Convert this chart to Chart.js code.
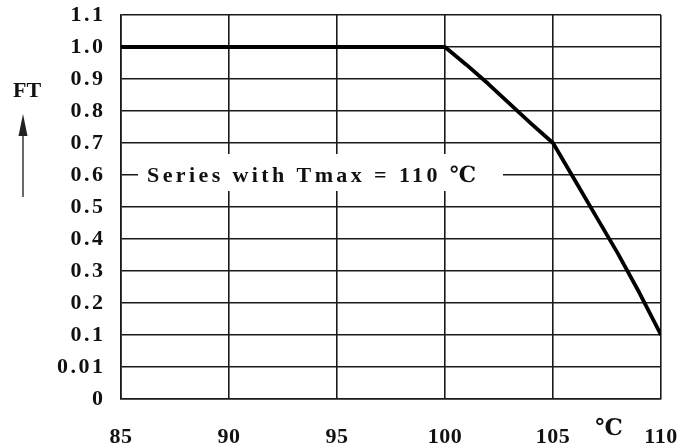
<!DOCTYPE html>
<html><head><meta charset="utf-8">
<style>html,body{margin:0;padding:0;background:#fff;}#wrap{width:679px;height:448px;}</style>
<script src="https://cdn.jsdelivr.net/npm/chart.js@4"></script>
</head><body><div id="wrap"><canvas id="c" width="679" height="448"></canvas></div>
<script>
// Data
const temps = [85, 100, 101, 102, 103, 104, 105, 106, 107, 108, 109, 110];
const ftValues = [1.0, 1.0, 0.944, 0.885, 0.822, 0.76, 0.70, 0.585, 0.47, 0.355, 0.232, 0.10];
const xTickValues = [85, 90, 95, 100, 105, 110];
const yTickValues = [-0.1, 0, 0.1, 0.2, 0.3, 0.4, 0.5, 0.6, 0.7, 0.8, 0.9, 1.0, 1.1];
const yTickLabels = ['0', '0.01', '0.1', '0.2', '0.3', '0.4', '0.5', '0.6', '0.7', '0.8', '0.9', '1.0', '1.1'];
const seriesLabel = 'Series with Tmax = 110 \u2103';
const unitLabel = '\u2103';
const axisLabel = 'FT';

const FONT = '"Liberation Serif", "DejaVu Serif", serif';

const decor = {
  id: 'decor',
  beforeDraw(chart) { chart.ctx.letterSpacing = '0.5px'; },
  afterDatasetsDraw(chart) { chart.ctx.letterSpacing = '2.5px'; },
  afterDraw(chart) {
    const { ctx, scales: { x, y } } = chart;
    ctx.save();
    // annotation label box
    const yy = y.getPixelForValue(0.6);
    const left = x.left + 17, right = x.left + 382;
    ctx.fillStyle = '#fff';
    ctx.fillRect(left, yy - 21, right - left, 37);
    ctx.letterSpacing = '3.4px';
    ctx.font = 'bold 22px ' + FONT;
    ctx.fillStyle = '#111';
    ctx.textBaseline = 'middle';
    ctx.textAlign = 'left';
    ctx.fillText(seriesLabel, left + 9, yy + 1);
    // unit label near 110
    ctx.letterSpacing = '0px';
    ctx.font = 'bold 23px ' + FONT;
    ctx.textAlign = 'center';
    ctx.fillText(unitLabel, x.right - 52, 429);
    // FT axis label
    ctx.font = 'bold 22px ' + FONT;
    ctx.fillText(axisLabel, 27, 91);
    // arrow
    ctx.strokeStyle = '#444';
    ctx.lineWidth = 1.6;
    ctx.beginPath();
    ctx.moveTo(23, 197);
    ctx.lineTo(23, 130);
    ctx.stroke();
    ctx.fillStyle = '#222';
    ctx.beginPath();
    ctx.moveTo(23, 114);
    ctx.lineTo(18.5, 136);
    ctx.lineTo(27.5, 136);
    ctx.closePath();
    ctx.fill();
    ctx.restore();
  }
};

new Chart(document.getElementById('c'), {
  type: 'line',
  data: {
    datasets: [{
      data: temps.map((t, i) => ({ x: t, y: ftValues[i] })),
      borderColor: '#000',
      borderWidth: 3.8,
      pointRadius: 0,
      tension: 0,
      borderJoinStyle: 'round',
      fill: false
    }]
  },
  options: {
    responsive: false,
    devicePixelRatio: 1,
    animation: false,
    layout: { padding: { top: 15, right: 18, left: 0, bottom: 0 } },
    plugins: { legend: { display: false }, tooltip: { enabled: false } },
    scales: {
      x: {
        type: 'linear', min: 85, max: 110,
        afterBuildTicks: s => { s.ticks = xTickValues.map(v => ({ value: v })); },
        afterFit: s => { s.height = 49; s.paddingLeft = 0; s.paddingRight = 0; },
        grid: { color: '#1a1a1a', lineWidth: 1.6, drawTicks: false },
        border: { color: '#1a1a1a', width: 1.6 },
        ticks: {
          padding: 25, maxRotation: 0, autoSkip: false, color: '#111', z: 0,
          font: { family: FONT, size: 22, weight: 'bold' },
          callback: v => String(v)
        }
      },
      y: {
        type: 'linear', min: -0.1, max: 1.1,
        afterBuildTicks: s => { s.ticks = yTickValues.map(v => ({ value: v })); },
        afterFit: s => { s.width = 121; s.paddingTop = 0; s.paddingBottom = 0; },
        grid: { color: '#1a1a1a', lineWidth: 1.6, drawTicks: false },
        border: { color: '#1a1a1a', width: 1.6 },
        ticks: {
          padding: 15.5, autoSkip: false, color: '#111', z: 1,
          font: { family: FONT, size: 22, weight: 'bold' },
          callback: (v, i) => yTickLabels[i]
        }
      }
    }
  },
  plugins: [decor]
});
</script></body></html>
